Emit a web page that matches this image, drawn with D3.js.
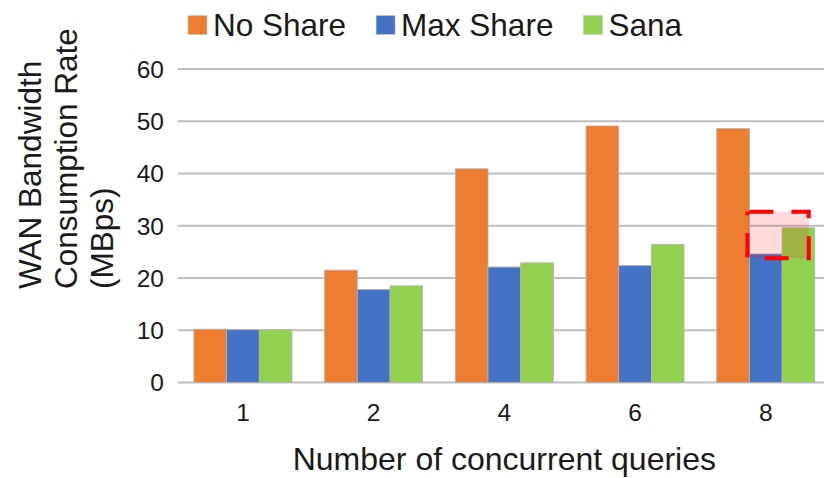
<!DOCTYPE html>
<html>
<head>
<meta charset="utf-8">
<script src="https://cdn.jsdelivr.net/npm/d3@7"></script>
<style>
  html, body { margin: 0; padding: 0; background: #ffffff; }
  svg { display: block; font-family: "Liberation Sans", Arial, sans-serif; }
</style>
</head>
<body>
<svg id="chart" width="824" height="478"></svg>
<script>
// Concurrent query counts (x categories)
const categories = ["1", "2", "4", "6", "8"];
// Series names, in legend / bar order
const seriesNames = ["No Share", "Max Share", "Sana"];
// WAN bandwidth consumption rate (MBps) per series
const noShare  = [10.2, 21.5, 40.9, 49.1, 48.6];
const maxShare = [10.1, 17.8, 22.1, 22.4, 24.6];
const sana     = [10.1, 18.5, 22.9, 26.4, 29.6];
// Y axis ticks
const yTicks = [0, 10, 20, 30, 40, 50, 60];
// Highlighted range at 8 queries (MBps), covering Max Share and Sana
const highlightRange = [23.8, 32.7];

const colors = { "No Share": "#ED7D31", "Max Share": "#4472C4", "Sana": "#92D050" };
const seriesValues = { "No Share": noShare, "Max Share": maxShare, "Sana": sana };

const svg = d3.select("#chart");
const plot = { left: 177.6, right: 831.1, top: 69, bottom: 382.5 };

const x0 = d3.scaleBand().domain(categories).range([plot.left, plot.right]).padding(0);
const step = x0.bandwidth();
const x1 = d3.scaleBand().domain(seriesNames).range([step * 0.125, step * 0.875]).padding(0);
const y = d3.scaleLinear().domain([0, 60]).range([plot.bottom, plot.top]);

// Horizontal gridlines
svg.append("g").selectAll("line").data(yTicks).join("line")
  .attr("x1", plot.left).attr("x2", plot.right)
  .attr("y1", d => y(d)).attr("y2", d => y(d))
  .attr("stroke", "#bfbfbf").attr("stroke-width", 2);

// Y tick labels
svg.append("g").selectAll("text").data(yTicks).join("text")
  .attr("x", 164).attr("y", d => y(d))
  .attr("dy", "0.36em")
  .attr("text-anchor", "end")
  .attr("font-size", 24.5).attr("fill", "#1a1a1a")
  .text(d => d);

// Bars
const groups = svg.append("g").selectAll("g").data(categories).join("g")
  .attr("transform", d => `translate(${x0(d)},0)`);
groups.selectAll("rect")
  .data((c, i) => seriesNames.map(s => ({ s, v: seriesValues[s][i] })))
  .join("rect")
  .attr("x", d => x1(d.s))
  .attr("width", x1.bandwidth())
  .attr("y", d => y(d.v))
  .attr("height", d => y(0) - y(d.v))
  .attr("fill", d => colors[d.s])
  .attr("stroke", "#b3b3b3").attr("stroke-width", 0.8);

// X tick labels
svg.append("g").selectAll("text").data(categories).join("text")
  .attr("x", d => x0(d) + step / 2).attr("y", 421)
  .attr("text-anchor", "middle")
  .attr("font-size", 24.5).attr("fill", "#1a1a1a")
  .text(d => d);

// X axis title
svg.append("text")
  .attr("x", (plot.left + plot.right) / 2).attr("y", 470)
  .attr("text-anchor", "middle")
  .attr("font-size", 32).attr("fill", "#1a1a1a")
  .text("Number of concurrent queries");

// Y axis title (three lines, rotated)
const yTitle = ["WAN Bandwidth", "Consumption Rate", "(MBps)"];
svg.append("g").selectAll("text").data(yTitle).join("text")
  .attr("transform", (d, i) => `translate(${41 + i * 36},289) rotate(-90)`)
  .attr("text-anchor", "start")
  .attr("font-size", 31.5).attr("fill", "#1a1a1a")
  .text(d => d);

// Legend: swatch, label, then a fixed gap before the next entry
const legend = svg.append("g");
let lx = 188;
seriesNames.forEach(s => {
  legend.append("rect")
    .attr("x", lx).attr("y", 15.5).attr("width", 19).attr("height", 19)
    .attr("fill", colors[s]).attr("stroke", "#c8c8c8").attr("stroke-width", 0.6);
  const t = legend.append("text")
    .attr("x", lx + 25).attr("y", 35.5)
    .attr("font-size", 31.5).attr("fill", "#1a1a1a")
    .text(s);
  lx += 25 + t.node().getComputedTextLength() + 30;
});

// Dashed highlight box at 8 queries
const hx0 = x0("8") + x1("Max Share") - 2;
const hx1 = x0("8") + x1("Sana") + x1.bandwidth() - 6;
svg.append("rect")
  .attr("x", hx0).attr("y", y(highlightRange[1]))
  .attr("width", hx1 - hx0)
  .attr("height", y(highlightRange[0]) - y(highlightRange[1]))
  .attr("fill", "#ff0000").attr("fill-opacity", 0.14)
  .attr("stroke", "#ff0000").attr("stroke-width", 4)
  .attr("stroke-dasharray", "24,18")
  .attr("stroke-dashoffset", 40);
</script>
</body>
</html>
